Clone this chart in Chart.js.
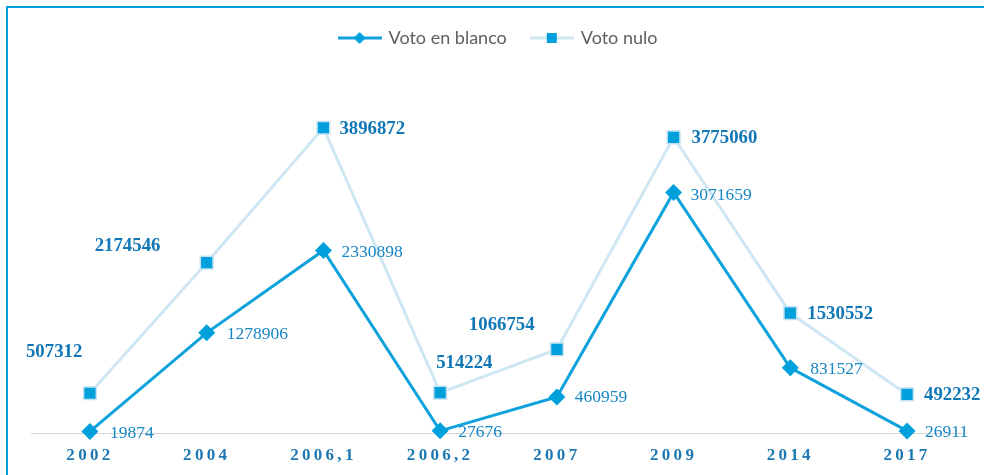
<!DOCTYPE html>
<html lang="es">
<head>
<meta charset="utf-8">
<title>Voto en blanco y voto nulo</title>
<script src="https://cdnjs.cloudflare.com/ajax/libs/Chart.js/4.4.1/chart.umd.min.js"></script>
<style>
  html, body { margin: 0; padding: 0; background: #fff; }
  #wrap { position: relative; width: 984px; height: 475px; overflow: hidden; }
  #frame { position: absolute; left: 6px; top: 6px; right: -4px; bottom: -4px; border-top: 2px solid #00a0dc; border-left: 2px solid #00a0dc; }
  canvas { position: absolute; left: 0; top: 0; }
</style>
</head>
<body>
<div id="wrap">
  <div id="frame"></div>
  <canvas id="chart" width="984" height="475"></canvas>
</div>
<script>
// data
const categories = ["2002", "2004", "2006,1", "2006,2", "2007", "2009", "2014", "2017"]
const votoEnBlanco = [19874, 1278906, 2330898, 27676, 460959, 3071659, 831527, 26911]
const votoNulo = [507312, 2174546, 3896872, 514224, 1066754, 3775060, 1530552, 492232]

// little legend icons: line with marker
function makeIcon(lineColor, draw) {
  const c = document.createElement("canvas")
  c.width = 44
  c.height = 16
  const g = c.getContext("2d")
  g.strokeStyle = lineColor
  g.lineWidth = 3
  g.beginPath()
  g.moveTo(0, 8)
  g.lineTo(44, 8)
  g.stroke()
  draw(g)
  return c
}
const iconBlanco = makeIcon("#0ea2dc", g => {
  g.fillStyle = "#00a0dc"
  g.beginPath()
  g.moveTo(22, 2); g.lineTo(28, 8); g.lineTo(22, 14); g.lineTo(16, 8)
  g.closePath()
  g.fill()
})
const iconNulo = makeIcon("#cfe6f3", g => {
  g.fillStyle = "#00a0dc"
  g.fillRect(17, 3, 10, 10)
})
const legendIcons = [iconBlanco, iconNulo]

// value labels next to each point
const valueLabels = {
  id: "valueLabels",
  afterDatasetsDraw(chart, args, opts) {
    const ctx = chart.ctx
    chart.data.datasets.forEach((ds, i) => {
      const st = opts.styles[i]
      const meta = chart.getDatasetMeta(i)
      ctx.save()
      ctx.font = st.font
      ctx.fillStyle = st.color
      ctx.textAlign = "left"
      ctx.textBaseline = "middle"
      meta.data.forEach((pt, j) => {
        const off = st.offsets[j]
        ctx.fillText(String(ds.data[j]), pt.x + off[0], pt.y + off[1])
      })
      ctx.restore()
    })
  }
}

// x labels drawn with expanded letter spacing
const spacedTicks = {
  id: "spacedTicks",
  afterDraw(chart, args, opts) {
    const scale = chart.scales.x
    const ctx = chart.ctx
    ctx.save()
    ctx.font = opts.font
    ctx.fillStyle = opts.color
    ctx.letterSpacing = opts.spacing
    ctx.textAlign = "center"
    ctx.textBaseline = "middle"
    scale.ticks.forEach((t, i) => {
      ctx.fillText(scale.getLabelForValue(t.value), scale.getPixelForTick(i), chart.chartArea.bottom + opts.offset)
    })
    ctx.restore()
  }
}

const blancoOffsets = [[20, 2], [20, 2], [18, 2], [18, 2], [18, 1], [17, 3], [20, 2], [18, 2]]
const nuloOffsets = [[-64, -41], [-112, -17], [16, 1], [-4, -30], [-88, -24], [18, 1], [17, 1], [17, 1]]

new Chart(document.getElementById("chart"), {
  type: "line",
  data: {
    labels: categories,
    datasets: [{
      label: "Voto en blanco",
      data: votoEnBlanco,
      borderColor: "#0ea2dc",
      borderWidth: 3,
      pointStyle: "rectRot",
      pointRadius: 8.5,
      pointBackgroundColor: "#00a0dc",
      pointBorderWidth: 0,
      tension: 0,
      clip: false
    }, {
      label: "Voto nulo",
      data: votoNulo,
      borderColor: "#cfe6f3",
      borderWidth: 3,
      pointStyle: "rect",
      pointRadius: 9,
      pointBackgroundColor: "#00a0dc",
      pointBorderColor: "#c4e2f3",
      pointBorderWidth: 1.5,
      tension: 0,
      clip: false
    }]
  },
  options: {
    responsive: false,
    animation: false,
    events: [],
    devicePixelRatio: 1,
    layout: { padding: { top: 4, left: 31.6, right: 18.6, bottom: 34 } },
    scales: {
      x: {
        offset: true,
        grid: { display: false },
        border: { display: true, color: "#d4d4d4", width: 1 },
        ticks: { display: false }
      },
      y: { display: false, min: 0, max: 4800000 }
    },
    plugins: {
      tooltip: { enabled: false },
      legend: {
        position: "top",
        labels: {
          usePointStyle: true,
          pointStyleWidth: 40,
          padding: 25,
          font: { family: "Lato", size: 18 },
          color: "#595959",
          generateLabels(chart) {
            return chart.data.datasets.map((ds, i) => ({
              text: ds.label,
              pointStyle: legendIcons[i],
              fontColor: "#5f5f5f",
              fillStyle: "transparent",
              strokeStyle: "transparent",
              lineWidth: 0,
              hidden: false,
              datasetIndex: i
            }))
          }
        }
      },
      valueLabels: {
        styles: [
          { font: "17.5px 'Liberation Serif'", color: "#1686c4", offsets: blancoOffsets },
          { font: "bold 18.8px 'Liberation Serif'", color: "#1178b8", offsets: nuloOffsets }
        ]
      },
      spacedTicks: { font: "bold 17px 'Liberation Serif'", color: "#1c78b2", spacing: "3.3px", offset: 22.5 }
    }
  },
  plugins: [valueLabels, spacedTicks]
})
</script>
</body>
</html>
